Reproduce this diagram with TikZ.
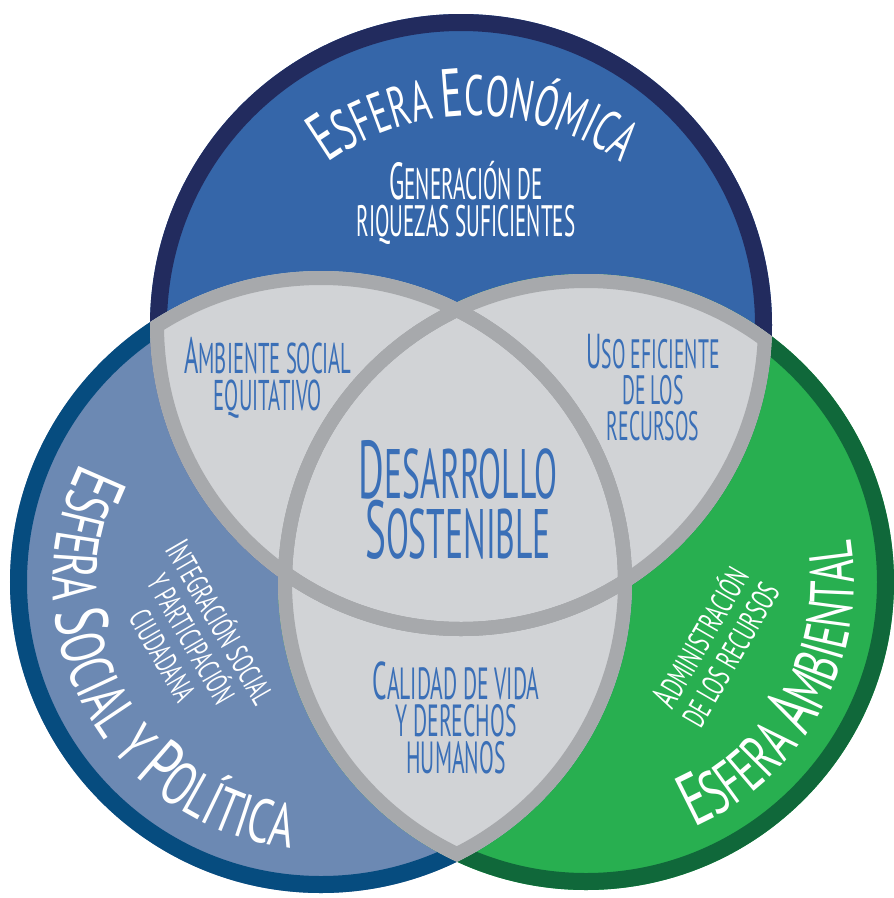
\documentclass[tikz,border=0pt]{standalone}
\usepackage{fontspec}
\usetikzlibrary{decorations.text}
\newfontfamily\hand[FakeStretch=0.48]{PT Sans}
\newfontfamily\handw[FakeStretch=0.6]{PT Sans}
\newfontfamily\handx[FakeStretch=0.68]{PT Sans}
\newfontfamily\handy[FakeStretch=0.64]{PT Sans}
\newfontfamily\handz[FakeStretch=0.62]{PT Sans}
\newcommand\myfs[2]{\fontsize{#1}{#2}\selectfont}
\newcommand\BigW{\handw\myfs{68}{68}\color{white}}
\newcommand\SmW{\handw\myfs{57}{57}\color{white}}
\newcommand\BigX{\handx\myfs{74}{74}\color{white}}
\newcommand\SmX{\handx\myfs{62}{62}\color{white}}
\newcommand\BigY{\handy\myfs{74}{74}\color{white}}
\newcommand\SmY{\handy\myfs{62}{62}\color{white}}
\definecolor{cTopFill}{HTML}{3566A9}
\definecolor{cTopBorder}{HTML}{222B5E}
\definecolor{cLeftFill}{HTML}{6C89B3}
\definecolor{cLeftBorder}{HTML}{064C7F}
\definecolor{cRightFill}{HTML}{28AF50}
\definecolor{cRightBorder}{HTML}{10683A}
\definecolor{cGrayFill}{HTML}{D1D3D6}
\definecolor{cGrayLine}{HTML}{A7A9AC}
\definecolor{cTxtBlue}{HTML}{3A6FB7}
\begin{document}
\begin{tikzpicture}[x=1pt,y=1pt,
  wtext/.style={text=white, align=center, inner sep=0pt},
  btext/.style={text=cTxtBlue, align=center, inner sep=0pt},
  gline/.style={draw=cGrayLine, line width=14pt},
  ring/.style={line width=17pt}]
\useasboundingbox (0,0) rectangle (894,-898);
\fill[white] (0,0) rectangle (894,-898);
\coordinate (cT) at (461,-325);
\coordinate (cL) at (321,-582);
\coordinate (cR) at (586,-582);
\def\diskT{(cT) circle (311)}
\def\diskL{(cL) circle (311)}
\def\diskR{(cR) circle (308)}
% coloured spheres
\fill[cTopFill] \diskT;
\fill[cLeftFill] \diskL;
\fill[cRightFill] \diskR;
\draw[ring, cTopBorder] (cT) circle (302.5);
\draw[ring, cLeftBorder] (cL) circle (302.5);
\draw[ring, cRightBorder] (cR) circle (299.5);
% grey overlaps
\begin{scope}
  \clip \diskT;
  \fill[cGrayFill] \diskL;
  \fill[cGrayFill] \diskR;
\end{scope}
\begin{scope}
  \clip \diskL;
  \fill[cGrayFill] \diskR;
\end{scope}
\begin{scope}
  \clip \diskT; \clip \diskL;
  \draw[gline] (cT) circle (304) (cL) circle (304) (cR) circle (301);
\end{scope}
\begin{scope}
  \clip \diskT; \clip \diskR;
  \draw[gline] (cT) circle (304) (cL) circle (304) (cR) circle (301);
\end{scope}
\begin{scope}
  \clip \diskL; \clip \diskR;
  \draw[gline] (cT) circle (304) (cL) circle (304) (cR) circle (301);
\end{scope}
% curved titles
\coordinate (cE) at (474,-368);
\path[decorate, decoration={text along path, text align=center,
  text={|\BigW|E|\SmW|SFERA |\BigW|E|\SmW|CONÓMICA}}]
  ([shift={(180:252)}]cE) arc[start angle=180, end angle=0, radius=252];
\path[decorate, decoration={text along path, text align=center,
  text={|\BigX|E|\SmX|SFERA |\BigX|S|\SmX|OCIAL Y |\BigX|P|\SmX|OLÍTICA}}]
  ([shift={(118.5:268)}]cL) arc[start angle=118.5, end angle=298.5, radius=268];
\path[decorate, decoration={text along path, text align=center,
  text={|\BigY|E|\SmY|SFERA |\BigY|A|\SmY|MBIENTAL}}]
  ([shift={(241.5:268)}]cR) arc[start angle=241.5, end angle=421.5, radius=268];
% texts
\node[wtext, font={\hand\myfs{44}{37}}] (gen) at (466,-203)
  {{\myfs{52}{37}G}ENERACIÓN DE\\RIQUEZAS SUFICIENTES};
\node[btext, font={\hand\myfs{43}{37}}] (amb) at (268,-378)
  {{\myfs{51}{37}A}MBIENTE SOCIAL\\EQUITATIVO};
\node[btext, font={\hand\myfs{41}{36}}] (uso) at (653,-388)
  {{\myfs{49}{36}U}SO EFICIENTE\\DE LOS\\RECURSOS};
\node[btext, font={\hand\myfs{70}{60}}] (des) at (458,-500)
  {{\myfs{82}{60}D}ESARROLLO\\{\myfs{82}{60}S}OSTENIBLE};
\node[btext, font={\hand\myfs{45}{37}}] (cal) at (456,-718)
  {{\myfs{53}{37}C}ALIDAD DE VIDA\\Y DERECHOS\\HUMANOS};
\node[wtext, rotate=-60, font={\handz\myfs{31}{33}}] (int) at (193,-638)
  {{\myfs{36}{33}I}NTEGRACIÓN SOCIAL\\Y PARTICIPACIÓN\\CIUDADANA};
\node[wtext, rotate=60, font={\handz\myfs{32}{34}}] (adm) at (714,-645)
  {{\myfs{37}{34}A}DMINISTRACIÓN\\DE LOS RECURSOS};
\end{tikzpicture}
\end{document}
